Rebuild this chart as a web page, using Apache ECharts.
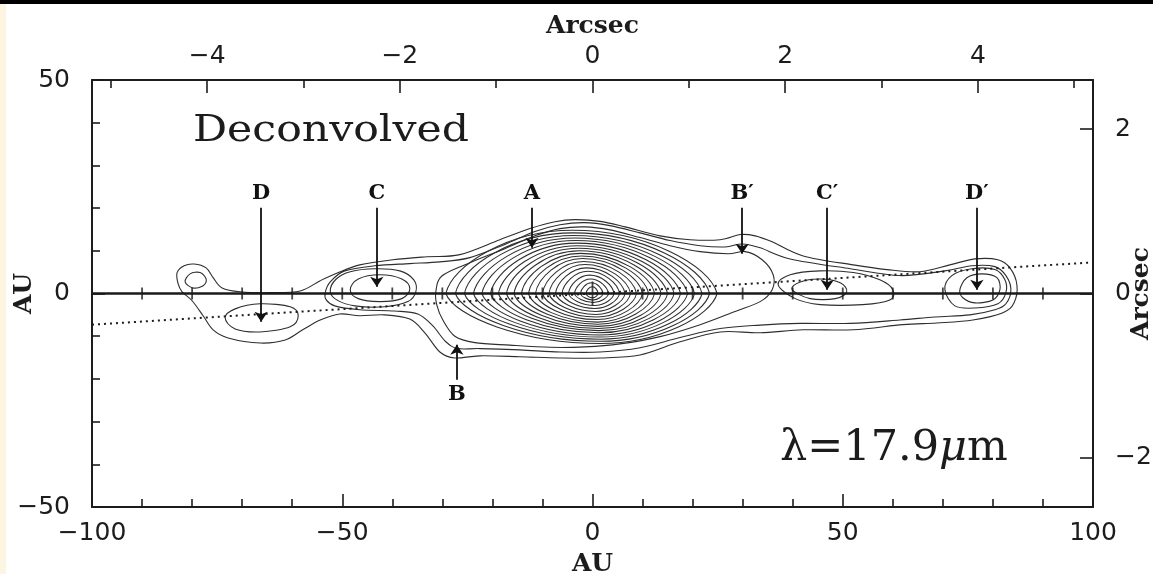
<!DOCTYPE html>
<html>
<head>
<meta charset="utf-8">
<script src="https://cdn.jsdelivr.net/npm/echarts@6/dist/echarts.min.js"></script>
<style>
  html, body { margin: 0; padding: 0; background: #fff; }
  #chart { width: 1153px; height: 574px; }
</style>
</head>
<body>
<div id="chart"></div>
<script>
// Scale between the two coordinate systems
const AU_PER_ARCSEC = 19.25;

// Axis ranges and tick values
const auRangeX = [-100, 100];
const auRangeY = [-50, 50];
const arcsecMajorTop = [-4, -2, 0, 2, 4];
const arcsecMinorTop = [-5, -3, -1, 1, 3, 5];
const arcsecRight = [-2, 0, 2];
const midplaneTicks = [-90, -80, -70, -60, -50, -40, -30, -20, -10, 0, 10, 20, 30, 40, 50, 60, 70, 80, 90];

// Tilted disk axis (dotted)
const diskAxisLine = [[-100, -7.3], [100, 7.3]];

// Outer isophotes (AU, AU)
const outerEnvelope = [
  [-82.8, 2.3], [-83.0, 4.9], [-81.6, 6.5], [-79.6, 6.9], [-77.2, 6.0], [-75.8, 3.7], [-74.0, 1.3],
  [-70.4, 0.4], [-64.4, 0.2], [-58.4, 0.6], [-54.4, 3.0], [-51.0, 4.8], [-46.5, 6.7], [-39.9, 7.9],
  [-33.1, 8.6], [-26.5, 9.1], [-18.5, 12.6], [-12.5, 15.2], [-7.5, 16.8], [-3.5, 17.3], [1.5, 16.9],
  [6.5, 15.6], [13.5, 13.5], [19.5, 12.6], [25.5, 12.6], [29.5, 13.8], [32.5, 13.5], [35.9, 12.1],
  [42.1, 8.8], [52.1, 6.7], [58.8, 5.6], [65.4, 5.1], [71.4, 6.7], [76.4, 8.1], [81.0, 7.9],
  [83.4, 6.0], [84.8, 2.0], [84.2, -2.2], [82.0, -4.5], [76.0, -6.2], [68.8, -6.9], [62.0, -7.3],
  [52.1, -8.5], [42.1, -8.5], [33.5, -9.2], [25.5, -9.0], [17.5, -11.3], [9.5, -14.4], [1.5, -15.1],
  [-6.5, -15.1], [-14.5, -14.8], [-22.5, -14.6], [-27.5, -15.1], [-30.5, -13.7], [-33.5, -9.2],
  [-36.5, -6.0], [-41.5, -5.0], [-46.5, -5.2], [-50.5, -4.8], [-54.4, -6.2], [-57.9, -8.5],
  [-61.4, -10.9], [-66.4, -11.6], [-72.8, -10.4], [-75.8, -8.5], [-77.8, -5.2], [-80.0, -1.7], [-82.0, 0.4]
];
const middleEnvelope = [
  [-53.4, 0.2], [-52.4, 2.7], [-49.5, 5.3], [-43.5, 6.5], [-36.5, 7.0], [-30.5, 7.4], [-24.5, 8.4],
  [-17.5, 11.5], [-11.5, 14.5], [-6.5, 16.1], [-1.5, 16.6], [3.5, 15.9], [9.5, 14.2], [15.5, 12.4],
  [21.5, 11.2], [26.5, 10.9], [29.9, 11.6], [33.5, 10.7], [39.5, 8.1], [51.5, 5.8], [61.4, 4.2],
  [70.4, 5.3], [75.8, 6.5], [80.4, 6.3], [82.6, 4.2], [83.6, 0.9], [82.6, -2.4], [80.4, -3.8],
  [75.4, -5.0], [68.4, -5.5], [61.4, -6.2], [51.5, -7.0], [41.5, -7.0], [33.5, -7.4], [25.5, -8.2],
  [17.5, -10.3], [9.5, -12.7], [1.5, -13.7], [-6.5, -13.7], [-14.5, -13.2], [-22.5, -12.9],
  [-26.9, -12.9], [-29.3, -11.3], [-31.9, -7.6], [-34.9, -4.8], [-39.5, -4.1], [-46.5, -3.8],
  [-51.5, -2.9], [-53.2, -1.5]
];
const innerEnvelope = [
  [-31.3, 0.4], [-30.1, 4.1], [-24.5, 7.2], [-17.5, 10.5], [-11.5, 13.5], [-6.5, 15.2], [-1.5, 15.6],
  [3.5, 14.9], [9.5, 13.1], [15.5, 11.2], [21.5, 9.8], [27.1, 9.3], [30.5, 9.8], [33.9, 7.9],
  [36.1, 4.4], [35.9, 0.9], [33.5, -1.9], [28.5, -4.2], [21.5, -7.3], [13.5, -10.1], [5.5, -11.8],
  [-1.5, -12.5], [-8.5, -12.6], [-16.5, -12.1], [-23.5, -11.5], [-27.5, -10.0], [-29.9, -6.2], [-31.1, -2.7]
];

// Compact knots along the disk
const westKnotCore = [[-81.4, 2.7], [-80.4, 4.6], [-78.4, 4.9], [-77.2, 3.4], [-77.8, 1.8], [-79.8, 1.3]];
const knotD = [[-73.4, -5.7], [-71.4, -3.6], [-66.4, -2.4], [-60.4, -3.1], [-58.8, -5.2], [-60.4, -7.8], [-66.4, -9.0], [-71.4, -8.3]];
const knotC = [[-52.4, 0.6], [-51.2, 3.4], [-48.4, 5.1], [-43.5, 5.8], [-38.5, 5.3], [-35.7, 3.2], [-35.3, 0.4], [-36.9, -1.9], [-41.5, -3.1], [-47.5, -2.9], [-51.1, -1.5]];
const knotCCore = [[-48.4, 0.9], [-46.8, 3.4], [-42.5, 4.4], [-38.1, 3.4], [-36.5, 1.1], [-38.1, -1.2], [-42.5, -1.9], [-46.8, -1.2]];
const knotCPrime = [[37.1, 2.0], [39.5, 4.4], [45.5, 5.3], [52.1, 4.9], [57.4, 3.2], [60.0, 0.9], [59.4, -1.5], [54.0, -2.6], [45.5, -2.6], [40.5, -1.2]];
const knotCPrimeCore = [[39.9, 0.9], [41.5, 2.7], [45.5, 3.4], [49.5, 2.5], [50.8, 0.4], [48.5, -1.2], [43.5, -1.2]];
const knotDPrime = [[70.4, 0.9], [71.8, 4.2], [75.8, 5.8], [80.4, 5.6], [82.4, 3.2], [82.6, 0.2], [81.0, -2.4], [76.4, -3.4], [72.4, -2.9]];
const knotDPrimeCore = [[73.4, 0.9], [74.8, 3.7], [77.8, 4.6], [80.8, 3.7], [81.4, 0.9], [80.0, -1.5], [76.4, -2.2], [74.0, -1.0]];

const isophoteLoops = [
  outerEnvelope, middleEnvelope, innerEnvelope, westKnotCore, knotD,
  knotC, knotCCore, knotCPrime, knotCPrimeCore, knotDPrime, knotDPrimeCore
];

// Nested isophotes around the central peak A (AU): extents left/right, top/bottom, and x of top/bottom
const peakALeft    = [-29.3, -27.4, -25.6, -23.8, -22.1, -20.4, -18.8, -17.2, -15.7, -14.2, -12.8, -11.4, -10.0, -8.7, -7.4, -6.1, -4.8, -3.6, -2.4, -1.3];
const peakARight   = [24.9, 23.4, 21.9, 20.4, 19.0, 17.6, 16.3, 15.0, 13.7, 12.4, 11.2, 10.0, 8.8, 7.6, 6.5, 5.4, 4.3, 3.2, 2.1, 1.1];
const peakATop     = [14.8, 14.2, 13.6, 13.0, 12.4, 11.8, 11.2, 10.6, 10.0, 9.4, 8.8, 8.2, 7.5, 6.8, 6.0, 5.2, 4.3, 3.4, 2.5, 1.6];
const peakABottom  = [-11.7, -11.2, -10.7, -10.2, -9.7, -9.2, -8.7, -8.2, -7.7, -7.2, -6.7, -6.1, -5.5, -4.9, -4.2, -3.5, -2.8, -2.1, -1.5, -1.0];
const peakATopX    = [-4.0, -3.9, -3.8, -3.6, -3.4, -3.2, -3.0, -2.8, -2.6, -2.4, -2.2, -2.0, -1.8, -1.5, -1.2, -0.9, -0.6, -0.4, -0.2, 0];
const peakABottomX = [1.5, 1.5, 1.5, 1.4, 1.4, 1.3, 1.3, 1.2, 1.2, 1.1, 1.0, 0.9, 0.8, 0.7, 0.6, 0.5, 0.4, 0.2, 0.1, 0];

// Labelled features: arrow from tail to tip (AU)
const featureNames = ['D', 'C', 'A', 'B\u2032', 'C\u2032', 'D\u2032', 'B'];
const featureX     = [-66.2, -43.1, -12.1, 29.9, 46.9, 76.8, -27.1];
const featureTail  = [20.1, 20.1, 20.1, 20.1, 20.1, 20.1, -20.2];
const featureTip   = [-6.6, 1.6, 10.7, 9.3, 0.9, 0.9, -12.0];

const INK = '#1c1c1c';
const CONTOUR = '#2e2e2e';
const minus = v => String(v).replace('-', '\u2212');

function closedSplinePath(pts) {
  const n = pts.length;
  let d = 'M' + pts[0][0] + ',' + pts[0][1];
  for (let i = 0; i < n; i++) {
    const p0 = pts[(i - 1 + n) % n], p1 = pts[i], p2 = pts[(i + 1) % n], p3 = pts[(i + 2) % n];
    const c1x = p1[0] + (p2[0] - p0[0]) / 6, c1y = p1[1] + (p2[1] - p0[1]) / 6;
    const c2x = p2[0] - (p3[0] - p1[0]) / 6, c2y = p2[1] - (p3[1] - p1[1]) / 6;
    d += 'C' + c1x + ',' + c1y + ' ' + c2x + ',' + c2y + ' ' + p2[0] + ',' + p2[1];
  }
  return d + 'Z';
}

function peakPath(L, T, R, B) {
  const a = 0.05, b = 0.45, c = 0.5;
  let d = 'M' + L[0] + ',' + L[1];
  let w = T[0] - L[0], h = T[1] - L[1];
  d += 'C' + (L[0] + a * w) + ',' + (L[1] + b * h) + ' ' + (T[0] - c * w) + ',' + T[1] + ' ' + T[0] + ',' + T[1];
  w = R[0] - T[0]; h = R[1] - T[1];
  d += 'C' + (T[0] + c * w) + ',' + T[1] + ' ' + (R[0] - a * w) + ',' + (R[1] - b * h) + ' ' + R[0] + ',' + R[1];
  w = R[0] - B[0]; h = B[1] - R[1];
  d += 'C' + (R[0] - a * w) + ',' + (R[1] + b * h) + ' ' + (B[0] + c * w) + ',' + B[1] + ' ' + B[0] + ',' + B[1];
  w = B[0] - L[0]; h = B[1] - L[1];
  d += 'C' + (B[0] - c * w) + ',' + B[1] + ' ' + (L[0] + a * w) + ',' + (L[1] + b * h) + ' ' + L[0] + ',' + L[1];
  return d + 'Z';
}

const chart = echarts.init(document.getElementById('chart'), null, { renderer: 'canvas' });

const axisLineStyle = { color: INK, width: 2 };
const tickStyle = { color: INK, width: 1.6 };
const tickFont = { fontFamily: 'DejaVu Sans', fontSize: 25, color: INK };
const titleFont = { fontFamily: 'DejaVu Serif', fontWeight: 'bold', fontSize: 25, color: INK };
const arcsecExtent = auRangeX[1] / AU_PER_ARCSEC;
const arcsecExtentY = auRangeY[1] / AU_PER_ARCSEC;

const option = {
  animation: false,
  backgroundColor: '#ffffff',
  grid: { left: 92, right: 60, top: 80, bottom: 67, containLabel: false, outerBoundsMode: 'none' },
  xAxis: [
    {
      type: 'value', position: 'bottom', min: auRangeX[0], max: auRangeX[1], interval: 50,
      axisLine: { onZero: false, lineStyle: axisLineStyle },
      axisTick: { inside: true, length: 13, lineStyle: tickStyle },
      minorTick: { show: true, splitNumber: 5, length: 8, lineStyle: tickStyle },
      splitLine: { show: false }, minorSplitLine: { show: false },
      axisLabel: Object.assign({ margin: 14, formatter: minus }, tickFont),
      name: 'AU', nameLocation: 'middle', nameGap: 45, nameMoveOverlap: false, nameTextStyle: titleFont
    },
    {
      type: 'value', position: 'top', min: -arcsecExtent, max: arcsecExtent,
      axisLine: { onZero: false, lineStyle: axisLineStyle },
      axisTick: { inside: true, length: 13, lineStyle: tickStyle, customValues: arcsecMajorTop },
      splitLine: { show: false },
      axisLabel: Object.assign({ margin: 11, customValues: arcsecMajorTop, formatter: minus }, tickFont),
      name: 'Arcsec', nameLocation: 'middle', nameGap: 41, nameMoveOverlap: false, nameTextStyle: titleFont
    },
    {
      type: 'value', position: 'top', min: -arcsecExtent, max: arcsecExtent,
      axisLine: { show: false, onZero: false },
      axisTick: { inside: true, length: 8, lineStyle: tickStyle, customValues: arcsecMinorTop },
      splitLine: { show: false },
      axisLabel: { show: false }
    }
  ],
  yAxis: [
    {
      type: 'value', position: 'left', min: auRangeY[0], max: auRangeY[1], interval: 50,
      axisLine: { onZero: false, lineStyle: axisLineStyle },
      axisTick: { inside: true, length: 13, lineStyle: tickStyle },
      minorTick: { show: true, splitNumber: 5, length: 8, lineStyle: tickStyle },
      splitLine: { show: false }, minorSplitLine: { show: false },
      axisLabel: Object.assign({ margin: 22, formatter: minus }, tickFont),
      name: 'AU', nameLocation: 'middle', nameGap: 55, nameMoveOverlap: false, nameTextStyle: titleFont
    },
    {
      type: 'value', position: 'right', min: -arcsecExtentY, max: arcsecExtentY,
      axisLine: { onZero: false, lineStyle: axisLineStyle },
      axisTick: { inside: true, length: 13, lineStyle: tickStyle, customValues: arcsecRight },
      splitLine: { show: false },
      axisLabel: Object.assign({ margin: 22, customValues: arcsecRight, formatter: minus }, tickFont),
      name: 'Arcsec', nameLocation: 'middle', nameGap: 36, nameMoveOverlap: false, nameTextStyle: titleFont
    }
  ],
  graphic: [
    { type: 'rect', left: 0, top: 0, shape: { width: 1153, height: 4 }, style: { fill: '#000' }, silent: true },
    { type: 'rect', left: 0, top: 4, shape: { width: 6, height: 570 }, style: { fill: '#fbf5e2' }, silent: true },
    {
      type: 'text', x: 193, y: 113, scaleX: 1.15,
      style: { text: 'Deconvolved', font: '37px "DejaVu Serif"', fill: INK }
    },
    {
      type: 'text', x: 780, y: 427,
      style: {
        text: '{t|\u03bb=17.9}{i|\u03bc}{t|m}',
        rich: {
          t: { font: '43px "DejaVu Serif"', fill: INK },
          i: { font: 'italic 43px "DejaVu Serif"', fill: INK }
        }
      }
    }
  ],
  series: [
    {
      type: 'custom', name: 'isophotes', xAxisIndex: 0, yAxisIndex: 0, z: 2, silent: true,
      data: isophoteLoops.map((_, i) => [i, 0]),
      renderItem: function (params, api) {
        const pts = isophoteLoops[api.value(0)].map(p => api.coord(p));
        return {
          type: 'path',
          shape: { pathData: closedSplinePath(pts) },
          style: { fill: 'none', stroke: CONTOUR, lineWidth: 1.1 }
        };
      }
    },
    {
      type: 'custom', name: 'peak A', xAxisIndex: 0, yAxisIndex: 0, z: 2, silent: true,
      encode: { x: [0, 1, 4, 5], y: [2, 3] },
      data: peakALeft.map((v, i) => [v, peakARight[i], peakATop[i], peakABottom[i], peakATopX[i], peakABottomX[i]]),
      renderItem: function (params, api) {
        const L = api.coord([api.value(0), 0]);
        const R = api.coord([api.value(1), 0]);
        const T = api.coord([api.value(4), api.value(2)]);
        const B = api.coord([api.value(5), api.value(3)]);
        return {
          type: 'path',
          shape: { pathData: peakPath(L, T, R, B) },
          style: { fill: 'none', stroke: CONTOUR, lineWidth: 1.05 }
        };
      }
    },
    {
      type: 'line', name: 'disk axis', xAxisIndex: 0, yAxisIndex: 0, z: 3, silent: true,
      data: diskAxisLine, symbol: 'none',
      lineStyle: { color: INK, width: 2, type: [2, 4] }
    },
    {
      type: 'line', name: 'midplane', xAxisIndex: 0, yAxisIndex: 0, z: 4, silent: true,
      data: [[auRangeX[0], 0], [auRangeX[1], 0]], symbol: 'none',
      lineStyle: { color: '#1a1a1a', width: 2.4 },
      markLine: {
        silent: true, animation: false,
        symbol: ['none', 'arrow'], symbolSize: 10,
        lineStyle: { color: '#111', width: 1.8, type: 'solid' },
        label: {
          show: true, position: 'start', distance: 4, formatter: '{b}',
          fontFamily: 'DejaVu Serif', fontWeight: 'bold', fontSize: 21, color: '#111'
        },
        data: featureNames.map((n, i) => [
          { name: n, coord: [featureX[i], featureTail[i]] },
          { coord: [featureX[i], featureTip[i]] }
        ])
      }
    },
    {
      type: 'scatter', name: 'midplane ticks', xAxisIndex: 0, yAxisIndex: 0, z: 4, silent: true,
      symbol: 'rect',
      data: midplaneTicks.map(x => ({ value: [x, 0], symbolSize: x === 0 ? [1.8, 24] : [1.8, 12] })),
      itemStyle: { color: '#1a1a1a' }
    }
  ]
};

chart.setOption(option);
</script>
</body>
</html>
